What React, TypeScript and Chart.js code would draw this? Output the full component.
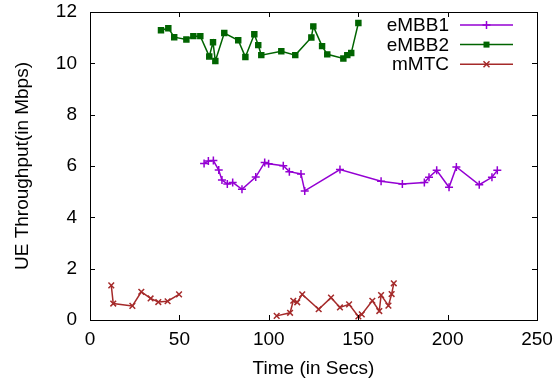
import React, { useEffect, useRef } from "react";
import { Chart, registerables } from "chart.js";

Chart.register(...registerables);

// eMBB1
const embb1Time = [63.8, 66.2, 69.0, 72.0, 73.8, 76.8, 79.8, 85.0, 92.7, 97.7, 99.9, 108.1, 111.5, 118.0, 120.1, 139.8, 162.8, 174.7, 187.0, 189.6, 193.9, 200.8, 204.9, 217.7, 224.8, 227.8];
const embb1Values = [6.10, 6.19, 6.21, 5.84, 5.45, 5.30, 5.36, 5.09, 5.57, 6.14, 6.09, 6.01, 5.78, 5.69, 5.03, 5.86, 5.41, 5.30, 5.36, 5.56, 5.83, 5.17, 5.96, 5.27, 5.56, 5.83];

// eMBB2
const embb2Time = [39.7, 43.8, 47.1, 53.9, 57.8, 61.7, 66.7, 68.8, 70.1, 75.1, 82.9, 86.9, 91.9, 94.1, 95.8, 107.0, 114.8, 123.8, 124.9, 129.8, 132.7, 141.7, 143.9, 146.1, 150.1];
const embb2Values = [11.29, 11.37, 11.02, 10.93, 11.06, 11.06, 10.27, 10.82, 10.09, 11.18, 10.90, 10.25, 11.13, 10.71, 10.32, 10.47, 10.32, 11.01, 11.44, 10.67, 10.35, 10.19, 10.32, 10.40, 11.57];

// mMTC (two separate runs)
const mmtcTimeA = [11.9, 13.0, 23.7, 28.7, 33.9, 38.2, 43.4, 49.8];
const mmtcValuesA = [1.35, 0.64, 0.55, 1.10, 0.84, 0.70, 0.73, 1.00];
const mmtcTimeB = [104.4, 111.9, 113.7, 115.9, 118.7, 127.9, 134.8, 139.8, 144.9, 150.1, 152.0, 157.9, 161.8, 162.8, 166.9, 168.7, 169.9];
const mmtcValuesB = [0.16, 0.28, 0.75, 0.69, 1.00, 0.42, 0.87, 0.49, 0.61, 0.14, 0.22, 0.75, 0.35, 0.97, 0.56, 1.01, 1.43];

const xTickStep = 50;
const yTickStep = 2;

const FONT = "'Liberation Sans', Arial, sans-serif";
const FS = 19;
const C1 = "#9400d3";
const C2 = "#006400";
const C3 = "#a52a2a";

const toPts = (xs: number[], ys: number[]) => xs.map((x, i) => ({ x, y: ys[i] }));

function drawMarker(ctx: CanvasRenderingContext2D, style: string, x: number, y: number, r: number, color: string) {
  ctx.save();
  ctx.strokeStyle = color;
  ctx.fillStyle = color;
  ctx.lineWidth = 1.5;
  ctx.beginPath();
  if (style === "cross") {
    ctx.moveTo(x - r, y); ctx.lineTo(x + r, y);
    ctx.moveTo(x, y - r); ctx.lineTo(x, y + r);
    ctx.stroke();
  } else if (style === "crossRot") {
    const d = r * 0.75;
    ctx.moveTo(x - d, y - d); ctx.lineTo(x + d, y + d);
    ctx.moveTo(x + d, y - d); ctx.lineTo(x - d, y + d);
    ctx.stroke();
  } else {
    ctx.fillRect(x - r, y - r, 2 * r, 2 * r);
  }
  ctx.restore();
}

const framePlugin = {
  id: "gnuframe",
  afterDraw(chart: any) {
    const { ctx, chartArea: a, scales } = chart;
    ctx.save();
    ctx.strokeStyle = "#000";
    ctx.lineWidth = 1;
    ctx.strokeRect(Math.round(a.left) + 0.5, Math.round(a.top) + 0.5, Math.round(a.right - a.left), Math.round(a.bottom - a.top));
    const tl = 5;
    ctx.beginPath();
    scales.x.ticks.forEach((t: any) => {
      const px = Math.round(scales.x.getPixelForValue(t.value)) + 0.5;
      ctx.moveTo(px, a.bottom); ctx.lineTo(px, a.bottom - tl);
      ctx.moveTo(px, a.top); ctx.lineTo(px, a.top + tl);
    });
    scales.y.ticks.forEach((t: any) => {
      const py = Math.round(scales.y.getPixelForValue(t.value)) + 0.5;
      ctx.moveTo(a.left, py); ctx.lineTo(a.left + tl, py);
      ctx.moveTo(a.right, py); ctx.lineTo(a.right - tl, py);
    });
    ctx.stroke();

    // legend (gnuplot style: text right-aligned, sample on right)
    const seen = new Set<string>();
    let row = 0;
    chart.data.datasets.forEach((ds: any) => {
      if (seen.has(ds.label)) return;
      seen.add(ds.label);
      const y = 25 + row * 19.6;
      ctx.font = `${FS}px ${FONT}`;
      ctx.fillStyle = "#000";
      ctx.textAlign = "right";
      ctx.textBaseline = "middle";
      ctx.fillText(ds.label, 449, y + 1);
      ctx.strokeStyle = ds.borderColor;
      ctx.lineWidth = 1.5;
      ctx.beginPath();
      ctx.moveTo(460, y); ctx.lineTo(513, y);
      ctx.stroke();
      drawMarker(ctx, ds.pointStyle, 486.5, y, ds.pointStyle === "rect" ? 3 : 4, ds.borderColor);
      row++;
    });
    ctx.restore();
  },
};

export default function App() {
  const ref = useRef<HTMLCanvasElement | null>(null);
  useEffect(() => {
    document.body.style.margin = "0";
    const mk = (label: string, data: any, color: string, style: string, r: number) => ({
      label,
      data,
      borderColor: color,
      backgroundColor: color,
      pointBorderColor: color,
      pointBackgroundColor: color,
      borderWidth: 1.5,
      pointStyle: style,
      pointRadius: r,
      pointBorderWidth: 1.5,
      showLine: true,
      tension: 0,
    });
    const chart = new Chart(ref.current!, {
      type: "scatter",
      data: {
        datasets: [
          mk("eMBB1", toPts(embb1Time, embb1Values), C1, "cross", 4),
          mk("eMBB2", toPts(embb2Time, embb2Values), C2, "rect", 3.5),
          mk("mMTC", toPts(mmtcTimeA, mmtcValuesA), C3, "crossRot", 4),
          mk("mMTC", toPts(mmtcTimeB, mmtcValuesB), C3, "crossRot", 4),
        ] as any,
      },
      options: {
        animation: false,
        responsive: false,
        layout: { padding: { left: 0, right: 20, top: 12, bottom: 0 } },
        plugins: { legend: { display: false }, tooltip: { enabled: false } },
        scales: {
          x: {
            type: "linear",
            min: 0,
            max: 250,
            ticks: { stepSize: xTickStep, color: "#000", font: { family: FONT, size: FS }, padding: 8, maxRotation: 0 },
            grid: { display: false, drawTicks: false },
            border: { display: false },
            title: { display: true, text: "Time (in Secs)", color: "#000", font: { family: FONT, size: FS }, padding: { top: 0, bottom: 5 } },
            afterFit: (s: any) => { s.height = 65; s.paddingLeft = 0; s.paddingRight = 0; },
          },
          y: {
            type: "linear",
            min: 0,
            max: 12,
            ticks: { stepSize: yTickStep, color: "#000", font: { family: FONT, size: FS }, padding: 13 },
            grid: { display: false, drawTicks: false },
            border: { display: false },
            title: { display: true, text: "UE Throughput(in Mbps)", color: "#000", font: { family: FONT, size: FS }, padding: { top: 11, bottom: 0 } },
            afterFit: (s: any) => { s.width = 90; s.paddingTop = 0; s.paddingBottom = 0; },
          },
        },
      },
      plugins: [framePlugin],
    } as any);
    return () => chart.destroy();
  }, []);
  return <canvas ref={ref} width={557} height={385} style={{ display: "block" }} />;
}
